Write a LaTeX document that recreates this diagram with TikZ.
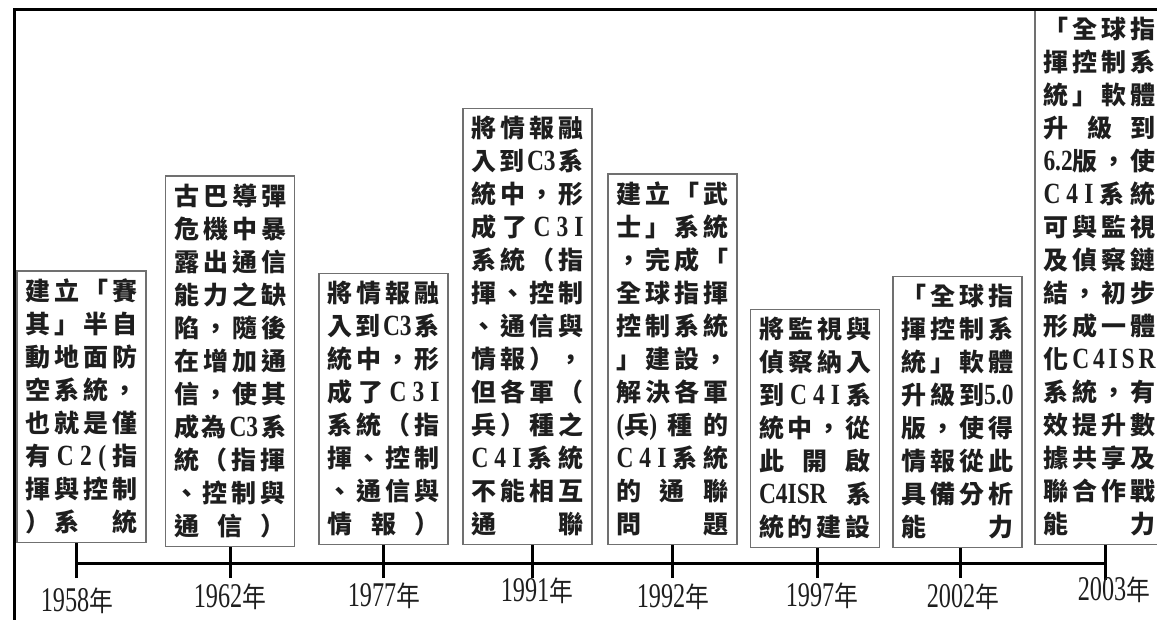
\documentclass[tikz,border=0pt]{standalone}
\usepackage{fontspec}
\newfontfamily\cjk{Noto Sans CJK TC}
\newfontfamily\latf[FakeStretch=0.8]{Liberation Serif}
\newfontfamily\yrf[FakeStretch=0.7]{Liberation Serif}
\newfontfamily\yrcjk[FakeStretch=0.85]{Noto Sans CJK TC}
\definecolor{boxgray}{HTML}{707070}
\definecolor{txt}{HTML}{1E1E1E}
\newcommand\hf{\hfill}
\newcommand\la[1]{{\latf\bfseries\fontsize{22pt}{24.75pt}\selectfont #1}}
\newcommand\ph{\phantom{國}}
\newcommand\rw[1]{\hbox to 84pt{#1}}
\newcommand\yrlabel[1]{{\yrf\fontsize{26pt}{26pt}\selectfont #1}{\yrcjk\fontsize{21pt}{26pt}\selectfont 年}}
\tikzset{
  evbox/.style={draw=boxgray, line width=1.1pt, inner xsep=6.375pt, inner ysep=6pt,
    align=center, font=\cjk\bfseries\fontsize{18.75pt}{24.75pt}\selectfont, text=txt, anchor=south},
  axisline/.style={line width=2.25pt, draw=black},
  frameline/.style={line width=2.4pt, draw=black, line join=miter},
  yearlbl/.style={text=txt, inner sep=0pt, anchor=center}
}
\begin{document}
\begin{tikzpicture}[x=0.75pt,y=-0.75pt]
\useasboundingbox (0,0) rectangle (1157,620);

\node[evbox] (b1) at (81.5,543) {%
\rw{建\hf 立\hf 「\hf 賽}\\
\rw{其\hf 」\hf 半\hf 自}\\
\rw{動\hf 地\hf 面\hf 防}\\
\rw{空\hf 系\hf 統\hf ，}\\
\rw{也\hf 就\hf 是\hf 僅}\\
\rw{有\hf \la{C}\hf \la{2}\hf \la{(}\hf 指}\\
\rw{揮\hf 與\hf 控\hf 制}\\
\rw{）\hf 系\hf \ph\hf 統}};

\node[evbox] (b2) at (230,547) {%
\rw{古\hf 巴\hf 導\hf 彈}\\
\rw{危\hf 機\hf 中\hf 暴}\\
\rw{露\hf 出\hf 通\hf 信}\\
\rw{能\hf 力\hf 之\hf 缺}\\
\rw{陷\hf ，\hf 隨\hf 後}\\
\rw{在\hf 增\hf 加\hf 通}\\
\rw{信\hf ，\hf 使\hf 其}\\
\rw{成\hf 為\hf \la{C3}\hf 系}\\
\rw{統\hf （\hf 指\hf 揮}\\
\rw{、\hf 控\hf 制\hf 與}\\
\rw{通\hf 信\hf ）}};

\node[evbox] (b3) at (383.5,545) {%
\rw{將\hf 情\hf 報\hf 融}\\
\rw{入\hf 到\hf \la{C3}\hf 系}\\
\rw{統\hf 中\hf ，\hf 形}\\
\rw{成\hf 了\hf \la{C}\hf \la{3}\hf \la{I}}\\
\rw{系\hf 統\hf （\hf 指}\\
\rw{揮\hf 、\hf 控\hf 制}\\
\rw{、\hf 通\hf 信\hf 與}\\
\rw{情\hf 報\hf ）}};

\node[evbox] (b4) at (527.5,545) {%
\rw{將\hf 情\hf 報\hf 融}\\
\rw{入\hf 到\hf \la{C3}\hf 系}\\
\rw{統\hf 中\hf ，\hf 形}\\
\rw{成\hf 了\hf \la{C}\hf \la{3}\hf \la{I}}\\
\rw{系\hf 統\hf （\hf 指}\\
\rw{揮\hf 、\hf 控\hf 制}\\
\rw{、\hf 通\hf 信\hf 與}\\
\rw{情\hf 報\hf ）\hf ，}\\
\rw{但\hf 各\hf 軍\hf （}\\
\rw{兵\hf ）\hf 種\hf 之}\\
\rw{\la{C}\hf \la{4}\hf \la{I}\hf 系\hf 統}\\
\rw{不\hf 能\hf 相\hf 互}\\
\rw{通\hf 聯}};

\node[evbox] (b5) at (672.5,545) {%
\rw{建\hf 立\hf 「\hf 武}\\
\rw{士\hf 」\hf 系\hf 統}\\
\rw{，\hf 完\hf 成\hf 「}\\
\rw{全\hf 球\hf 指\hf 揮}\\
\rw{控\hf 制\hf 系\hf 統}\\
\rw{」\hf 建\hf 設\hf ，}\\
\rw{解\hf 決\hf 各\hf 軍}\\
\rw{\la{(}兵\la{)}\hf 種\hf 的}\\
\rw{\la{C}\hf \la{4}\hf \la{I}\hf 系\hf 統}\\
\rw{的\hf 通\hf 聯}\\
\rw{問\hf 題}};

\node[evbox] (b6) at (815,548) {%
\rw{將\hf 監\hf 視\hf 與}\\
\rw{偵\hf 察\hf 納\hf 入}\\
\rw{到\hf \la{C}\hf \la{4}\hf \la{I}\hf 系}\\
\rw{統\hf 中\hf ，\hf 從}\\
\rw{此\hf 開\hf 啟}\\
\rw{\la{C4ISR}\hf 系}\\
\rw{統\hf 的\hf 建\hf 設}};

\node[evbox] (b7) at (957.5,548) {%
\rw{「\hf 全\hf 球\hf 指}\\
\rw{揮\hf 控\hf 制\hf 系}\\
\rw{統\hf 」\hf 軟\hf 體}\\
\rw{升\hf 級\hf 到\la{5.0}}\\
\rw{版\hf ，\hf 使\hf 得}\\
\rw{情\hf 報\hf 從\hf 此}\\
\rw{具\hf 備\hf 分\hf 析}\\
\rw{能\hf 力}};

\node[evbox] (b8) at (1099.5,545) {%
\rw{「\hf 全\hf 球\hf 指}\\
\rw{揮\hf 控\hf 制\hf 系}\\
\rw{統\hf 」\hf 軟\hf 體}\\
\rw{升\hf 級\hf 到}\\
\rw{\la{6.2}版\hf ，\hf 使}\\
\rw{\la{C}\hf \la{4}\hf \la{I}\hf 系\hf 統}\\
\rw{可\hf 與\hf 監\hf 視}\\
\rw{及\hf 偵\hf 察\hf 鏈}\\
\rw{結\hf ，\hf 初\hf 步}\\
\rw{形\hf 成\hf 一\hf 體}\\
\rw{化\hf \la{C}\hf \la{4}\hf \la{I}\hf \la{S}\hf \la{R}}\\
\rw{系\hf 統\hf ，\hf 有}\\
\rw{效\hf 提\hf 升\hf 數}\\
\rw{據\hf 共\hf 享\hf 及}\\
\rw{聯\hf 合\hf 作\hf 戰}\\
\rw{能\hf 力}};

% timeline
\coordinate (l1) at (76,563);
\coordinate (l8) at (1105,563);
\draw[axisline] (l1) -- (l8);
\coordinate (t1) at (76,578);
\coordinate (t2) at (230,578);
\coordinate (t3) at (383,578);
\coordinate (t4) at (532,578);
\coordinate (t5) at (672,578);
\coordinate (t6) at (817,578);
\coordinate (t7) at (960,578);
\coordinate (t8) at (1105,580);
\foreach \i in {1,...,8} \draw[axisline] (t\i) -- (t\i |- b\i.south);

% year labels
\node[yearlbl] (y1) at (77,601) {\yrlabel{1958}};
\node[yearlbl] (y2) at (230,597) {\yrlabel{1962}};
\node[yearlbl] (y3) at (384,596) {\yrlabel{1977}};
\node[yearlbl] (y4) at (537,591) {\yrlabel{1991}};
\node[yearlbl] (y5) at (673,597) {\yrlabel{1992}};
\node[yearlbl] (y6) at (822,596) {\yrlabel{1997}};
\node[yearlbl] (y7) at (963,597) {\yrlabel{2002}};
\node[yearlbl] (y8) at (1114,590) {\yrlabel{2003}};

% frame
\coordinate (fTR) at (1160,9.5);
\coordinate (fTL) at (14.5,9.5);
\coordinate (fBL) at (14.5,625);
\draw[frameline] (fTR) -- (fTL) -- (fBL);
\end{tikzpicture}
\end{document}
